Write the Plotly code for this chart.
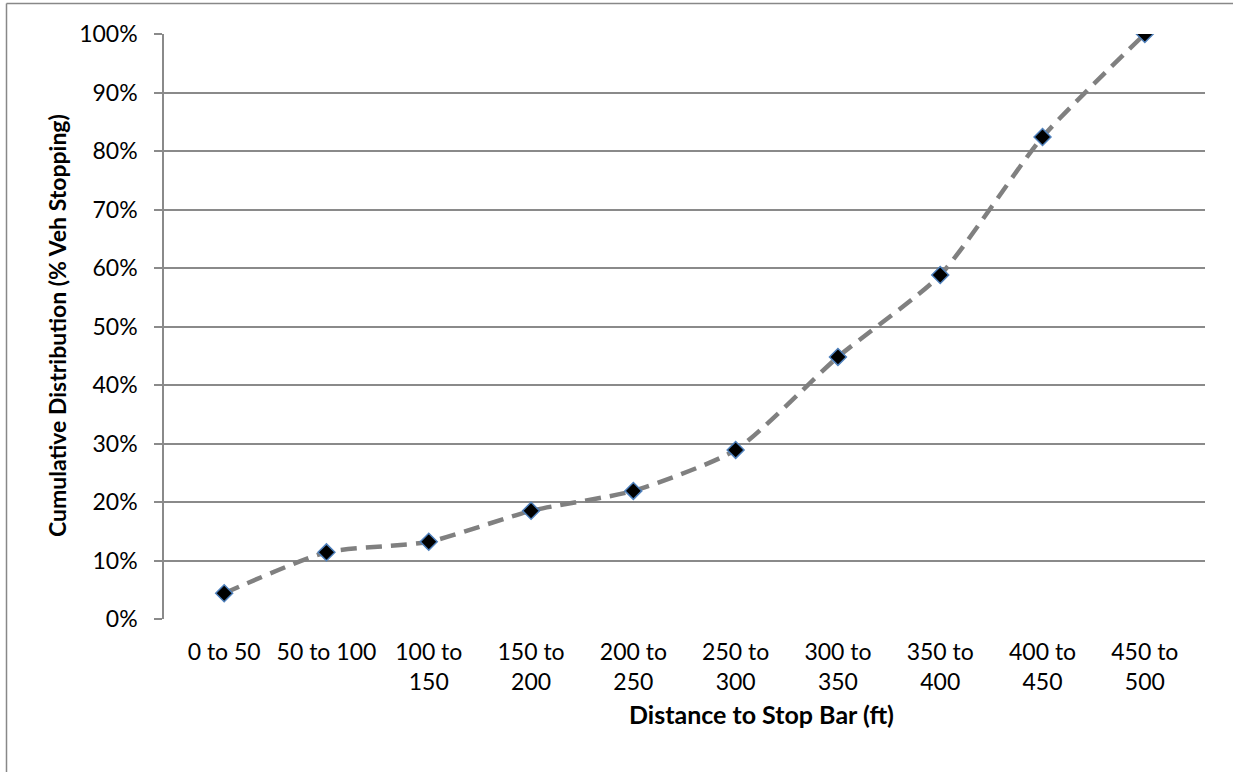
import plotly.graph_objects as go

categories = ["0 to 50", "50 to 100", "100 to<br>150", "150 to<br>200", "200 to<br>250",
              "250 to<br>300", "300 to<br>350", "350 to<br>400", "400 to<br>450", "450 to<br>500"]
cumulative = [0.044, 0.114, 0.132, 0.185, 0.219, 0.289, 0.448, 0.588, 0.824, 1.0]
y_ticks = [0, 0.1, 0.2, 0.3, 0.4, 0.5, 0.6, 0.7, 0.8, 0.9, 1.0]

W, H = 1233, 772
L, R, T, B = 164, 28, 34, 153
pw, ph = W - L - R, H - T - B

def px_x(x):
    return (x - L) / pw

def px_y(y):
    return (H - B - y) / ph

FONT = "Lato"
GRID = "#8a8a8a"

fig = go.Figure()
fig.add_trace(go.Scatter(
    x=categories, y=cumulative, mode="lines+markers",
    line=dict(color="#808080", width=4.5, dash="16px,9px", shape="spline", smoothing=0.6),
    marker=dict(symbol="diamond", size=13, color="#000000",
                line=dict(color="#4f81bd", width=1.5)),
    showlegend=False,
))

fig.update_layout(
    width=W, height=H,
    margin=dict(l=L, r=R, t=T, b=B),
    paper_bgcolor="white", plot_bgcolor="white",
    font=dict(family=FONT, size=23, color="#000000"),
    xaxis=dict(
        type="category", showgrid=False, showline=False, ticks="",
        tickfont=dict(family=FONT, size=23), ticklabelstandoff=17,
        zeroline=False,
    ),
    yaxis=dict(
        range=[0, 1], tickvals=y_ticks, tickformat=".0%",
        showgrid=True, gridcolor=GRID, gridwidth=1.5,
        showline=True, linecolor=GRID, linewidth=1.5,
        ticks="outside", ticklen=8, tickcolor=GRID, tickwidth=1.5,
        ticklabelstandoff=12, zeroline=False,
        tickfont=dict(family=FONT, size=23),
    ),
    shapes=[
        dict(type="line", xref="paper", yref="paper",
             x0=px_x(6.5), x1=px_x(1240), y0=px_y(3.5), y1=px_y(3.5),
             line=dict(color="#888888", width=1.5), layer="above"),
        dict(type="line", xref="paper", yref="paper",
             x0=px_x(6.5), x1=px_x(6.5), y0=px_y(3.5), y1=px_y(790),
             line=dict(color="#888888", width=1.5), layer="above"),
    ],
    annotations=[
        dict(text="<b>Distance to Stop Bar (ft)</b>", xref="paper", yref="paper",
             x=px_x(761), y=px_y(714), xanchor="center", yanchor="middle",
             showarrow=False, font=dict(family=FONT, size=25, color="#000000")),
        dict(text="<b>Cumulative Distribution (% Veh Stopping)</b>", xref="paper", yref="paper",
             x=px_x(57), y=px_y(326), xanchor="center", yanchor="middle", textangle=-90,
             showarrow=False, font=dict(family=FONT, size=23, color="#000000")),
    ],
)

fig.write_html("out.html", config={"displayModeBar": False},
               post_script="document.body.style.margin='0px';document.documentElement.style.overflow='hidden';window.scrollTo(0,0);")
